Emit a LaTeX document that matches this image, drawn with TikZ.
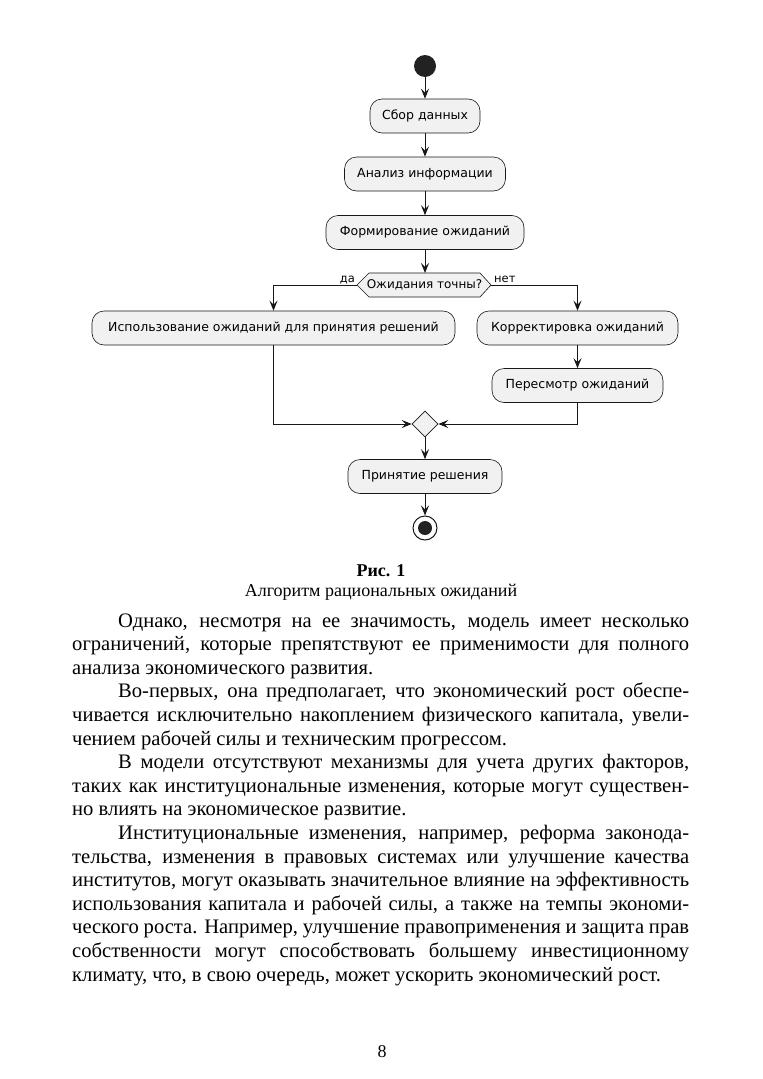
\documentclass[tikz,border=0pt]{standalone}
\usepackage{fontspec}
\setmainfont{Liberation Serif}
\newfontfamily\diagfont{DejaVu Sans}
\usetikzlibrary{shapes.geometric,arrows.meta}
\definecolor{linec}{HTML}{181818}
\definecolor{boxfill}{HTML}{F1F1F1}
\definecolor{startc}{HTML}{222222}
\newcommand\jl[4]{\node[body] (#1) at (#2,#3) {\makebox[\dimexpr 689pt-#2pt\relax][s]{#4}};}
\newcommand\pl[4]{\node[body] (#1) at (#2,#3) {#4};}
\begin{document}
\begin{tikzpicture}[x=1pt,y=-1pt,
  act/.style={draw=linec, line width=0.6pt, fill=boxfill, rounded corners=12pt, minimum height=34pt, inner sep=0pt, font=\diagfont\fontsize{12.5}{14}\selectfont, text=black},
  dtext/.style={inner sep=0pt, font=\diagfont\fontsize{12}{14}\selectfont},
  lbl/.style={inner sep=0pt, font=\diagfont\fontsize{11.5}{13}\selectfont},
  arr/.style={draw=linec, line width=1pt, -{Stealth[length=10pt,width=8pt,inset=4pt]}},
  body/.style={anchor=base west, inner sep=0pt, font=\fontsize{20.6}{24}\selectfont},
  captext/.style={anchor=base, inner sep=0pt, font=\fontsize{18}{20}\selectfont},
]
\fill[white] (0,0) rectangle (763,1079);
\useasboundingbox (0,0) rectangle (763,1079);

% diagram nodes
\node[circle, fill=startc, minimum size=22pt, inner sep=0pt] (start) at (425,66) {};
\node[act, minimum width=110pt] (b1) at (425,116) {Сбор данных};
\node[act, minimum width=161pt] (b2) at (425,174) {Анализ информации};
\node[act, minimum width=198pt] (b3) at (425,232.5) {Формирование ожиданий};
\path[draw=linec, fill=boxfill, line width=0.6pt] (357,285) -- (369,273) -- (480,273) -- (491,285) -- (480,297) -- (369,297) -- cycle;
\node[dtext] (dec) at (424.5,285) {Ожидания точны?};
\coordinate (decW) at (357,285);
\coordinate (decE) at (491,285);
\coordinate (decN) at (425,273);
\node[lbl, anchor=base east] (yes) at (355,282) {да};
\node[lbl, anchor=base west] (no) at (494,282) {нет};
\node[act, minimum width=363pt] (b4) at (273.5,328) {Использование ожиданий для принятия решений};
\node[act, minimum width=201pt] (b5) at (577.5,328) {Корректировка ожиданий};
\node[act, minimum width=171pt] (b6) at (577.5,385.5) {Пересмотр ожиданий};
\node[diamond, draw=linec, fill=boxfill, line width=0.6pt, minimum width=26pt, minimum height=26pt, inner sep=0pt] (merge) at (425,424) {};
\node[act, minimum width=154pt] (b7) at (425,476.5) {Принятие решения};
\node[circle, draw=linec, line width=1pt, minimum size=24pt, inner sep=0pt] (end) at (425,528) {};
\node[circle, fill=startc, minimum size=14pt, inner sep=0pt] (endin) at (end.center) {};

% connectors
\draw[arr] (start) -- (b1);
\draw[arr] (b1) -- (b2);
\draw[arr] (b2) -- (b3);
\draw[arr] (b3) -- (decN);
\draw[arr] (decW) -| (b4);
\draw[arr] (decE) -| (b5);
\draw[arr] (b5) -- (b6);
\draw[arr] (b4) |- (merge);
\draw[arr] (b6) |- (merge);
\draw[arr] (merge) -- (b7);
\draw[arr] (b7) -- (end);

% caption
\node[captext, font=\bfseries\fontsize{18}{20}\selectfont] (cap1) at (381,576) {Рис. 1};
\node[captext] (cap2) at (381,596) {Алгоритм рациональных ожиданий};

% body text
\jl{l1}{118}{627}{Однако, несмотря на ее значимость, модель имеет несколько}
\jl{l2}{72}{650.6}{ограничений, которые препятствуют ее применимости для полного}
\pl{l3}{72}{674.2}{анализа экономического развития.}
\jl{l4}{118}{697.8}{Во-первых, она предполагает, что экономический рост обеспе-}
\jl{l5}{72}{721.4}{чивается исключительно накоплением физического капитала, увели-}
\pl{l6}{72}{745}{чением рабочей силы и техническим прогрессом.}
\jl{l7}{118}{768.6}{В модели отсутствуют механизмы для учета других факторов,}
\jl{l8}{72}{792.2}{таких как институциональные изменения, которые могут существен-}
\pl{l9}{72}{815.8}{но влиять на экономическое развитие.}
\jl{l10}{118}{839.4}{Институциональные изменения, например, реформа законода-}
\jl{l11}{72}{863}{тельства, изменения в правовых системах или улучшение качества}
\jl{l12}{72}{886.6}{институтов, могут оказывать значительное влияние на эффективность}
\jl{l13}{72}{910.2}{использования капитала и рабочей силы, а также на темпы экономи-}
\jl{l14}{72}{933.8}{ческого роста. Например, улучшение правоприменения и защита прав}
\jl{l15}{72}{957.4}{собственности могут способствовать большему инвестиционному}
\pl{l16}{72}{981}{климату, что, в свою очередь, может ускорить экономический рост.}

\node[captext] (pnum) at (382,1057) {8};
\end{tikzpicture}
\end{document}
